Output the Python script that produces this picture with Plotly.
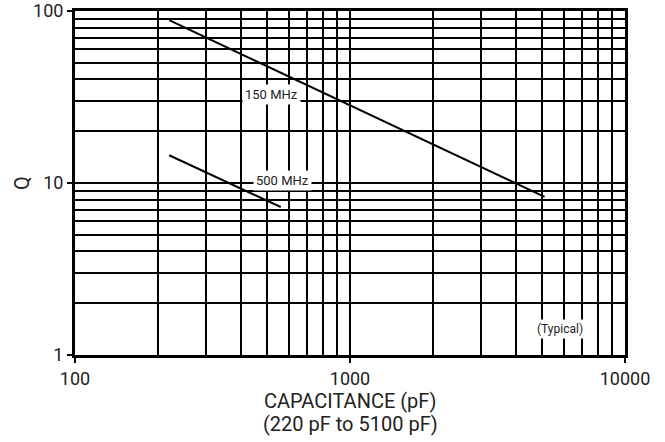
import plotly.graph_objects as go

# Data (log-log straight lines)
cap_150 = [220, 5100]
q_150 = [88.5, 8.3]
cap_500 = [220, 560]
q_500 = [14.5, 7.25]

x_major = [100, 1000, 10000]
x_major_text = ["100", "1000", "10000"]
y_major = [1, 10, 100]
y_major_text = ["1", "10", "100"]
x_grid = [m * d for d in (100, 1000) for m in range(1, 10)] + [10000]
y_grid = [m * d for d in (1, 10) for m in range(1, 10)] + [100]

FONT = "Roboto"
TXT = "#222222"

fig = go.Figure()
fig.add_trace(go.Scatter(x=cap_150, y=q_150, mode="lines",
                         line=dict(color="black", width=2), showlegend=False))
fig.add_trace(go.Scatter(x=cap_500, y=q_500, mode="lines",
                         line=dict(color="black", width=2), showlegend=False))

label_style = dict(showarrow=False, bgcolor="white", borderpad=2,
                   font=dict(family=FONT, size=13, color=TXT))
fig.add_annotation(x=2.716, y=1.512, text="150 MHz", **label_style)
fig.add_annotation(x=2.756, y=1.017, text="500 MHz", **label_style)
fig.add_annotation(x=3.764, y=0.151, text="(Typical)",
                   showarrow=False, bgcolor="white", borderpad=2,
                   font=dict(family=FONT, size=12, color=TXT))

# Axis titles (plot area: x 75..625 px, y 11..355 px)
fig.add_annotation(xref="paper", yref="paper", x=0.5, y=-0.1337,
                   text="CAPACITANCE (pF)", showarrow=False,
                   xanchor="center", yanchor="middle",
                   font=dict(family=FONT, size=20, color=TXT))
fig.add_annotation(xref="paper", yref="paper", x=0.5, y=-0.2006,
                   text="(220 pF to 5100 pF)", showarrow=False,
                   xanchor="center", yanchor="middle",
                   font=dict(family=FONT, size=20, color=TXT))
fig.add_annotation(xref="paper", yref="paper", x=-0.0964, y=0.5,
                   text="Q", showarrow=False, textangle=-90,
                   xanchor="center", yanchor="middle",
                   font=dict(family=FONT, size=20, color=TXT))

axis_common = dict(
    type="log", automargin=False,
    showline=True, linecolor="black", linewidth=3, mirror=True,
    ticks="outside", ticklen=5, tickwidth=2, tickcolor="black",
    showgrid=False, zeroline=False,
    tickfont=dict(family=FONT, size=18, color=TXT),
)

fig.update_xaxes(
    **axis_common,
    range=[2, 4],
    tickmode="array", tickvals=x_major, ticktext=x_major_text,
    minor=dict(tickmode="array", tickvals=x_grid, showgrid=True,
               gridcolor="black", gridwidth=2, ticks=""),
)
fig.update_yaxes(
    **axis_common,
    range=[0, 2],
    tickmode="array", tickvals=y_major, ticktext=y_major_text,
    minor=dict(tickmode="array", tickvals=y_grid, showgrid=True,
               gridcolor="black", gridwidth=2, ticks=""),
)

fig.update_layout(
    width=665, height=442,
    margin=dict(l=75, r=40, t=11, b=87),
    plot_bgcolor="white", paper_bgcolor="white",
    font=dict(family=FONT, color=TXT),
)

fig.write_html("out.html",
               config={"displayModeBar": False},
               post_script="document.body.style.margin='0';document.body.style.overflow='hidden';")
